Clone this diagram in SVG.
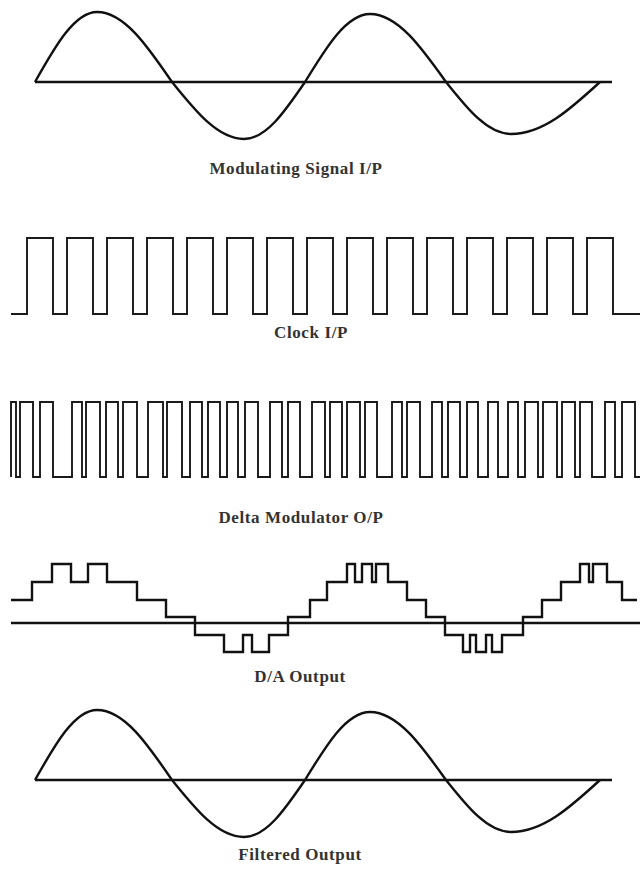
<svg xmlns="http://www.w3.org/2000/svg" width="640" height="875" viewBox="0 0 640 875">
<style>
.w{fill:none;stroke:#111;stroke-width:2.4;stroke-linejoin:round;stroke-linecap:butt}
.p{fill:none;stroke:#1a1a1a;stroke-width:1.9;stroke-linejoin:miter}
.ax{stroke:#111;stroke-width:2.4}
.lbl{font-family:"Liberation Serif",serif;font-weight:bold;font-size:17px;fill:#333;text-anchor:middle;letter-spacing:0.6px}
</style>
<defs>
<path id="sine" d="M35,82 C55.2,46.2 74.6,12 97,12 C124.2,12 147.6,46.2 172,82 C195.5,111.2 217.9,139 244,139 C266.1,139 285.1,111.2 305,82 C326.2,47.2 346.5,14 370,14 C397.5,14 421.2,47.2 446,82 C467.2,108.6 487.5,134 511,134 C543.2,134 571,108.6 600,82"/>
</defs>
<rect width="640" height="875" fill="#fff"/>
<g id="modulating-signal">
<line class="ax" x1="35" y1="82" x2="612" y2="82"/>
<use href="#sine" class="w"/>
<text class="lbl" x="296" y="174">Modulating Signal I/P</text>
</g>
<g id="clock">
<path class="p" d="M11,314 H27 V238 H53 V314 H67 V238 H93 V314 H107 V238 H133 V314 H147 V238 H173 V314 H187 V238 H213 V314 H227 V238 H253 V314 H267 V238 H293 V314 H307 V238 H333 V314 H347 V238 H373 V314 H387 V238 H413 V314 H427 V238 H453 V314 H467 V238 H493 V314 H507 V238 H533 V314 H547 V238 H573 V314 H587 V238 H613 V314 H640"/>
<text class="lbl" x="311" y="338">Clock I/P</text>
</g>
<g id="delta-modulator">
<path class="p" d="M11,477 V402 H16 V477 H20 V402 H33 V477 H40 V402 H53 V477 H72 V402 H82 V477 H86 V402 H100 V477 H106 V402 H118 V477 H123 V402 H137 V477 H148 V402 H163 V477 H167 V402 H182 V477 H190 V402 H202 V477 H208 V402 H220 V477 H227 V402 H238 V477 H245 V402 H258 V477 H270 V402 H282 V477 H288 V402 H300 V477 H312 V402 H325 V477 H330 V402 H342 V477 H347 V402 H360 V477 H365 V402 H377 V477 H392 V402 H402 V477 H407 V402 H420 V477 H432 V402 H442 V477 H448 V402 H460 V477 H467 V402 H478 V477 H488 V402 H498 V477 H508 V402 H518 V477 H525 V402 H538 V477 H543 V402 H557 V477 H562 V402 H575 V477 H580 V402 H592 V477 H605 V402 H615 V477 H622 V402 H635 V477 H640"/>
<text class="lbl" x="301" y="523">Delta Modulator O/P</text>
</g>
<g id="da-output">
<line class="ax" x1="11" y1="623" x2="640" y2="623"/>
<path class="w" style="stroke-linejoin:miter" d="M11,600 H32 V582 H52 V564 H71 V582 H88 V564 H107 V582 H137 V600 H166 V617 H195 V635 H224 V652 H243 V635 H252 V652 H269 V635 H288 V617 H310 V600 H327 V582 H347 V564 H355 V582 H362 V564 H372 V582 H376 V564 H388 V582 H407 V600 H426 V617 H445 V635 H463 V652 H470 V635 H476 V652 H486 V635 H492 V652 H502 V635 H523 V617 H542 V600 H561 V582 H580 V564 H589 V582 H593 V564 H607 V582 H622 V600 H637"/>
<text class="lbl" x="300" y="682">D/A Output</text>
</g>
<g id="filtered-output">
<line class="ax" x1="35" y1="780" x2="612" y2="780"/>
<use href="#sine" class="w" transform="translate(0,698)"/>
<text class="lbl" x="300" y="860">Filtered Output</text>
</g>
</svg>
